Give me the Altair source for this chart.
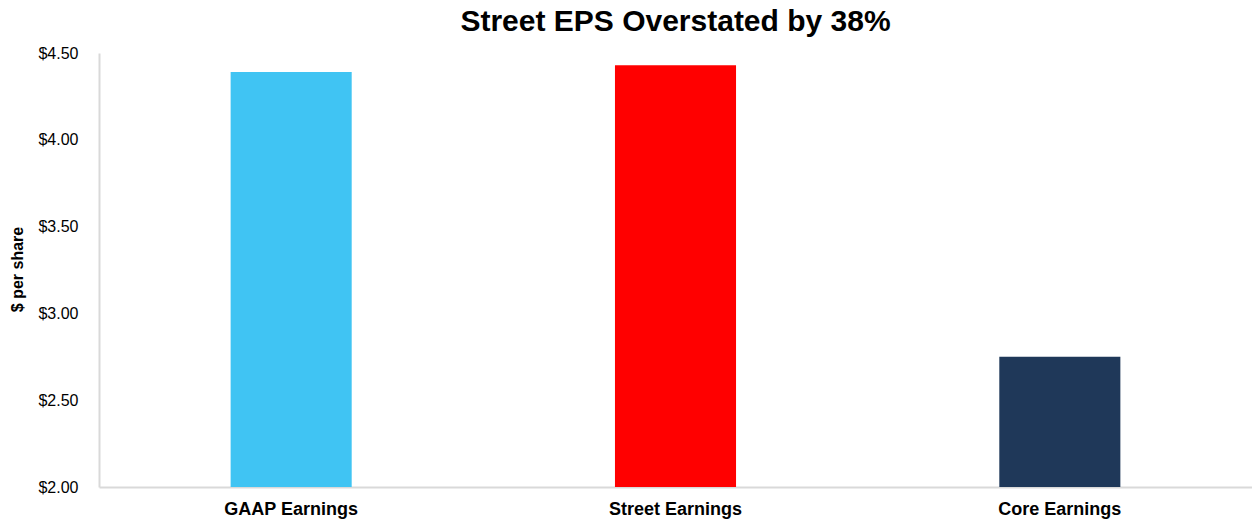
import altair as alt
import pandas as pd

categories = ["GAAP Earnings", "Street Earnings", "Core Earnings"]
eps_values = [4.39, 4.43, 2.75]
bar_colors = ["#40C4F3", "#FF0000", "#1F3859"]
y_ticks = [2.0, 2.5, 3.0, 3.5, 4.0, 4.5]

df = pd.DataFrame({"category": categories, "eps": eps_values})

FONT = "Liberation Sans"

chart = alt.Chart(df).mark_bar(clip=True).encode(
    x=alt.X(
        "category:N",
        sort=categories,
        scale=alt.Scale(paddingInner=0.685, paddingOuter=0.3425),
        axis=alt.Axis(
            title=None,
            labelAngle=0,
            labelFont=FONT,
            labelFontSize=18,
            labelFontWeight="bold",
            labelColor="#000000",
            labelPadding=13,
            ticks=False,
            domainColor="#D9D9D9",
            domainWidth=2,
        ),
    ),
    y=alt.Y(
        "eps:Q",
        scale=alt.Scale(domain=[2.0, 4.5], nice=False, zero=False),
        axis=alt.Axis(
            values=y_ticks,
            format="$.2f",
            grid=False,
            ticks=False,
            labelFont=FONT,
            labelFontSize=16,
            labelColor="#000000",
            labelPadding=21,
            domainColor="#D9D9D9",
            domainWidth=2,
            title="$ per share",
            titleFont=FONT,
            titleFontSize=16,
            titleFontWeight="bold",
            titleColor="#000000",
            titleAngle=-90,
            titleX=-82,
            titleY=216,
            titleAlign="center",
            titleBaseline="middle",
        ),
    ),
    color=alt.Color(
        "category:N",
        scale=alt.Scale(domain=categories, range=bar_colors),
        legend=None,
    ),
).properties(
    width=1153,
    height=434,
    title=alt.TitleParams(
        "Street EPS Overstated by 38%",
        font=FONT,
        fontSize=30,
        fontWeight="bold",
        color="#000000",
        anchor="middle",
        offset=8,
    ),
    autosize=alt.AutoSizeParams(type="none"),
    padding={"left": 99, "top": 53, "right": 0, "bottom": 36},
).configure(
    background="#FFFFFF",
    view=alt.ViewConfig(stroke=None),
)

chart.save("out.html", embed_options={"renderer": "svg", "actions": False})
